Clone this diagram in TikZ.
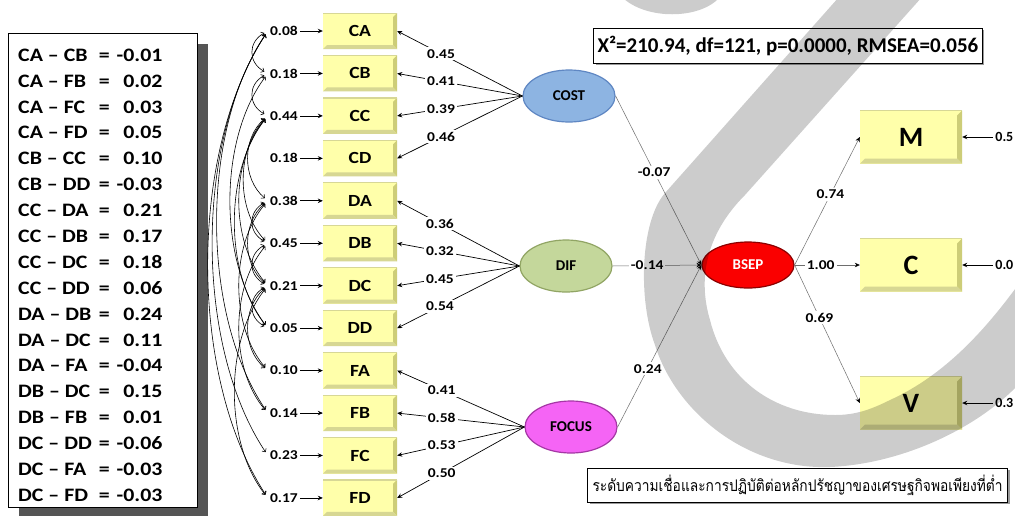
\documentclass[tikz,border=0pt]{standalone}
\usepackage{fontspec}
\setmainfont{Carlito}
\newfontfamily\widefont[FakeStretch=1.15]{Carlito}
\newfontfamily\thaifont[Script=Thai,FakeStretch=0.86]{Loma}
\usetikzlibrary{arrows.meta,calc,shapes.geometric,shadows}

\definecolor{boxyellow}{RGB}{255,255,170}
\definecolor{boxedge}{RGB}{205,205,120}
\definecolor{boxtop}{RGB}{215,215,150}
\definecolor{costblue}{RGB}{141,180,226}
\definecolor{costrim}{RGB}{95,135,195}
\definecolor{difgreen}{RGB}{196,215,155}
\definecolor{difrim}{RGB}{145,165,100}
\definecolor{focuspink}{RGB}{245,100,245}
\definecolor{focusrim}{RGB}{165,55,165}
\definecolor{bsepred}{RGB}{250,0,0}
\definecolor{bseprim}{RGB}{140,0,0}
\definecolor{pathgray}{RGB}{110,110,110}
\definecolor{shadowgray}{RGB}{85,85,85}

\tikzset{
  bevel/.style={path picture={
    \fill[boxedge] (path picture bounding box.north east) -- (path picture bounding box.south east)
      -- ($(path picture bounding box.south east)+(-#1,-#1)$)
      -- ($(path picture bounding box.north east)+(-#1,#1)$) -- cycle;
    \fill[boxedge!80!white] (path picture bounding box.south west) -- (path picture bounding box.south east)
      -- ($(path picture bounding box.south east)+(-#1,-#1)$)
      -- ($(path picture bounding box.south west)+(#1,-#1)$) -- cycle;
    \draw[boxtop, line width=1.2pt] (path picture bounding box.north west) -- (path picture bounding box.north east);
  }},
  indbox/.style={rectangle, fill=boxyellow, minimum width=74pt, minimum height=36pt, inner sep=0pt,
    font=\widefont\fontsize{17}{20}\selectfont\bfseries, bevel=4},
  obsbox/.style={rectangle, fill=boxyellow, minimum width=102pt, minimum height=53pt, inner sep=0pt,
    font=\fontsize{28}{32}\selectfont\bfseries, bevel=5},
  latent/.style={ellipse, minimum width=92pt, minimum height=52pt, inner sep=0pt, line width=1.2pt,
    font=\fontsize{15}{18}\selectfont\bfseries},
  num/.style={inner sep=2pt, font=\widefont\fontsize{13.5}{16}\selectfont\bfseries},
  numw/.style={num, fill=white},
  arr/.style={-{Stealth[length=5pt,width=4.5pt]}, line width=0.7pt},
  struct/.style={draw=pathgray, line width=0.5pt, -{Stealth[length=5pt,width=4.5pt,color=black]}},
  cov/.style={line width=0.6pt, shorten <=4pt, shorten >=4pt,
    {Straight Barb[length=2.5pt,width=5pt]}-{Straight Barb[length=2.5pt,width=5pt]}},
  wmark/.style={fill=black, fill opacity=0.2},
}

\begin{document}
\begin{tikzpicture}[x=1pt,y=-1pt]
\useasboundingbox (0,0) rectangle (1015,515);
\fill[white] (0,0) rectangle (1015,515);

% covariance list
\node[draw, line width=1.2pt, fill=white, minimum width=189pt, minimum height=474pt, anchor=north west, inner sep=0pt,
  drop shadow={shadow xshift=10pt, shadow yshift=-10pt, fill=shadowgray, opacity=1}] (covframe) at (8,33) {};
\node[anchor=north west, inner sep=0pt, font=\widefont\fontsize{19}{25.88}\selectfont\bfseries] (covlist) at (18,43) {%
\begin{tabular}{@{}l@{\hspace{7pt}}c@{\hspace{7pt}}r@{}}
CA – CB & = & -0.01\\
CA – FB & = & 0.02\\
CA – FC & = & 0.03\\
CA – FD & = & 0.05\\
CB – CC & = & 0.10\\
CB – DD & = & -0.03\\
CC – DA & = & 0.21\\
CC – DB & = & 0.17\\
CC – DC & = & 0.18\\
CC – DD & = & 0.06\\
DA – DB & = & 0.24\\
DA – DC & = & 0.11\\
DA – FA & = & -0.04\\
DB – DC & = & 0.15\\
DB – FB & = & 0.01\\
DC – DD & = & -0.06\\
DC – FA & = & -0.03\\
DC – FD & = & -0.03
\end{tabular}};

% indicators with their error terms
\foreach \n/\e [count=\i from 0] in {CA/0.08,CB/0.18,CC/0.44,CD/0.18,DA/0.38,DB/0.45,DC/0.21,DD/0.05,FA/0.10,FB/0.14,FC/0.23,FD/0.17}{
  \node[indbox] (\n) at (360,{31+42.45*\i}) {\n};
  \node[num, anchor=east] (e\n) at (300,{31+42.45*\i}) {\e};
  \draw[arr] (e\n) -- (\n);
}

% correlated errors
\foreach \p/\q/\k in {CA/CB/1, CA/FB/9, CA/FC/10, CA/FD/11, CB/CC/1, CB/DD/6, CC/DA/2, CC/DB/3, CC/DC/4,
  CC/DD/5, DA/DB/1, DA/DC/2, DA/FA/4, DB/DC/1, DB/FB/4, DC/DD/1, DC/FA/2, DC/FD/5}{
  \pgfmathsetmacro\ca{14+0.14*42.45*\k}
  \pgfmathsetmacro\cb{0.26*42.45*\k}
  \draw[cov] (e\p.west) .. controls ($(e\p.west)+(-\ca,\cb)$) and ($(e\q.west)+(-\ca,-\cb)$) .. (e\q.west);
}

% latent variables
\node[latent, fill=costblue, draw=costrim] (COST) at (569,96) {COST};
\node[latent, fill=difgreen, draw=difrim] (DIF) at (566,266) {DIF};
\node[latent, fill=focuspink, draw=focusrim] (FOCUS) at (571,427) {FOCUS};
\node[latent, fill=bsepred, draw=bseprim, text=white, minimum height=46pt] (BSEP) at (748,265) {BSEP};

% loadings
\foreach \f/\n/\v in {COST/CA/0.45, COST/CB/0.41, COST/CC/0.39, COST/CD/0.46,
  DIF/DA/0.36, DIF/DB/0.32, DIF/DC/0.45, DIF/DD/0.54,
  FOCUS/FA/0.41, FOCUS/FB/0.58, FOCUS/FC/0.53, FOCUS/FD/0.50}
  \draw[arr] (\f.west) -- node[numw, pos=0.65] {\v} (\n.east);

% structural paths
\draw[struct] (COST.east) -- node[numw, pos=0.45] {-0.07} (BSEP.west);
\draw[struct] (DIF.east) -- node[numw, pos=0.39] {-0.14} (BSEP.west);
\draw[struct] (FOCUS.east) -- node[numw, pos=0.36] {0.24} (BSEP.west);

% observed outcomes
\node[obsbox] (M) at (911,137) {M};
\node[obsbox] (C) at (911,265) {C};
\node[obsbox] (V) at (911,403) {V};
\draw[struct] (BSEP.east) -- node[numw, pos=0.55] {0.74} (M.west);
\draw[struct] (BSEP.east) -- node[numw, pos=0.4] {1.00} (C.west);
\draw[struct] (BSEP.east) -- node[numw, pos=0.38] {0.69} (V.west);
\foreach \n/\e in {M/0.5, C/0.0, V/0.3}{
  \node[num, anchor=west, font=\fontsize{14}{16}\selectfont\bfseries] (e\n) at ($(\n.east)+(31,0)$) {\e};
  \draw[arr] (e\n) -- (\n);
}

% fit indices and caption
\node[draw, line width=1pt, fill=white, minimum height=35pt, inner xsep=4pt, anchor=west,
  font=\fontsize{21}{24}\selectfont\bfseries,
  drop shadow={shadow xshift=2pt, shadow yshift=-2pt, fill=black!40, opacity=1}] (fit) at (593,45.5)
  {X²=210.94, df=121, p=0.0000, RMSEA=0.056};
\node[draw, line width=1pt, fill=white, minimum height=34pt, inner xsep=5pt, anchor=west,
  font=\thaifont\fontsize{16}{18}\selectfont,
  drop shadow={shadow xshift=2pt, shadow yshift=-2pt, fill=black!40, opacity=1}] (note) at (587,485)
  {ระดับความเชื่อและการปฏิบัติต่อหลักปรัชญาของเศรษฐกิจพอเพียงที่ต่ำ};

% translucent stroke laid over the page
\fill[wmark] (839,-3) -- (665,193) .. controls (640,222) and (638,300) .. (655,345)
  .. controls (675,410) and (745,470) .. (830,467) .. controls (900,464) and (975,430) .. (1018,385)
  -- (1018,285) .. controls (985,330) and (945,375) .. (890,400)
  .. controls (870,410) and (855,415) .. (835,415)
  .. controls (775,415) and (725,380) .. (710,320) .. controls (698,280) and (705,235) .. (745,195)
  -- (922,-3) -- cycle;
\fill[wmark] (622,-3) .. controls (645,20) and (700,20) .. (720,-3) -- cycle;
\end{tikzpicture}
\end{document}
